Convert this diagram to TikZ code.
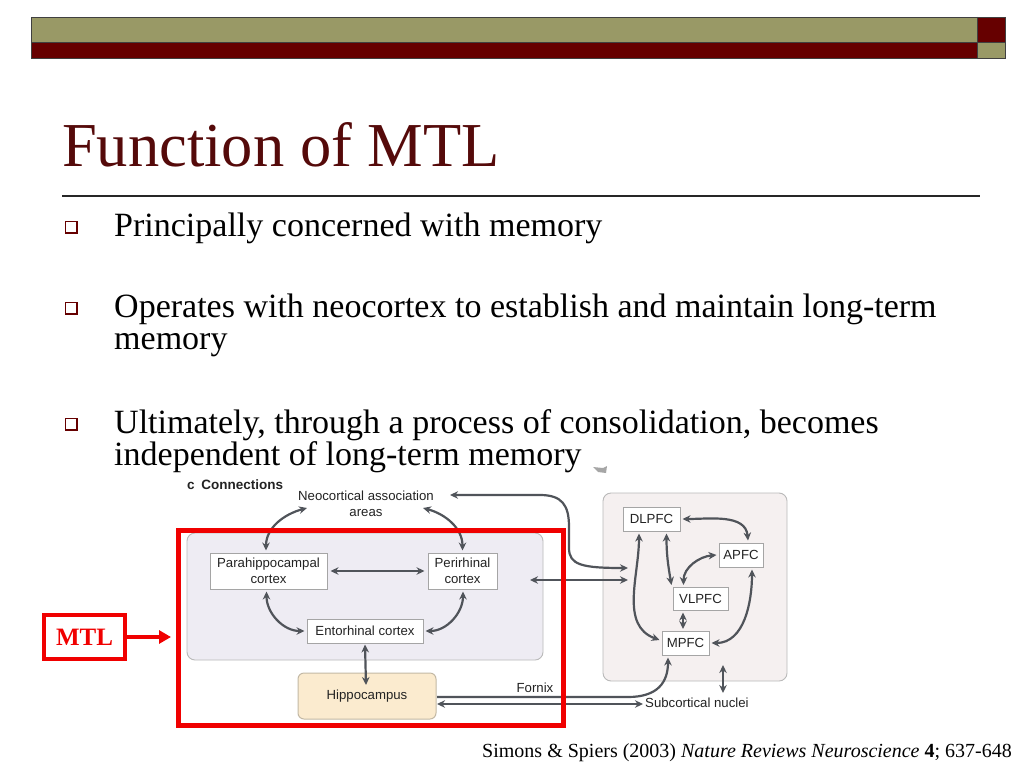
\documentclass[tikz,border=0pt]{standalone}
\usepackage{fontspec}
\setmainfont{Liberation Serif}
\setsansfont{Liberation Sans}
\usetikzlibrary{arrows.meta}
\definecolor{hdrolive}{RGB}{153,153,102}
\definecolor{hdrred}{RGB}{102,0,0}
\definecolor{titlered}{RGB}{85,10,10}
\definecolor{mtlred}{RGB}{240,0,0}
\definecolor{arrgray}{RGB}{80,84,90}
\definecolor{txtgray}{RGB}{35,35,35}
\definecolor{boxline}{RGB}{165,165,165}
\definecolor{mtlpanel}{RGB}{238,236,243}
\definecolor{pfcpanel}{RGB}{245,240,240}
\definecolor{panelline}{RGB}{185,185,185}
\definecolor{hippofill}{RGB}{251,235,207}
\definecolor{hippoline}{RGB}{195,185,165}
\tikzset{
  bodytext/.style={anchor=base west,inner sep=0,font=\fontsize{34}{34}\selectfont},
  bulletbox/.style={draw=hdrred,line width=1.5pt,fill=white,minimum width=11.5pt,minimum height=11.5pt,inner sep=0},
  regionbox/.style={draw=boxline,line width=1pt,fill=white,inner sep=0,text=txtgray,align=center,font=\sffamily\fontsize{13.2}{15.5}\selectfont},
  difftext/.style={inner sep=0,text=txtgray,align=center,font=\sffamily\fontsize{13.2}{15.5}\selectfont},
  arr/.style={draw=arrgray,line width=2.2pt,{Stealth[length=8pt,width=7.5pt]}-{Stealth[length=8pt,width=7.5pt]}},
  arrone/.style={draw=arrgray,line width=2.2pt,-{Stealth[length=8pt,width=7.5pt]}},
}
\begin{document}
\begin{tikzpicture}[x=1pt,y=-1pt]
\useasboundingbox (0,0) rectangle (1024,768);
\fill[white] (0,0) rectangle (1024,768);
% header bands
\fill[hdrolive] (31,17) rectangle (977,42);
\fill[hdrred] (31,42) rectangle (977,58);
\fill[hdrred] (977,17) rectangle (1005,42);
\fill[hdrolive] (977,42) rectangle (1005,58);
\draw[black!75,line width=0.8pt] (31,17) rectangle (1005,58);
\draw[black!75,line width=0.8pt] (31,42) -- (1005,42) (977,17) -- (977,58);
% title
\node[anchor=base west,inner sep=0,text=titlered,font=\fontsize{62.5}{62.5}\selectfont] (title) at (62,166) {Function of MTL};
\draw[black!85,line width=1.3pt] (62,196) -- (980,196);
% bullets
\node[bulletbox] (b1) at (71,227) {};
\node[bulletbox] (b2) at (71,308) {};
\node[bulletbox] (b3) at (71,424) {};
\node[bodytext] (t1) at (114,236) {Principally concerned with memory};
\node[bodytext] (t2a) at (114,317) {Operates with neocortex to establish and maintain long-term};
\node[bodytext] (t2b) at (114,349) {memory};
\node[bodytext] (t3a) at (114,433) {Ultimately, through a process of consolidation, becomes};
\node[bodytext] (t3b) at (114,465) {independent of long-term memory};
% small artifact
\fill[gray!70] (593,467) -- (603,468) -- (607,466) -- (606,473) -- (598,472) -- cycle;
% panels
\draw[panelline,fill=mtlpanel,line width=0.9pt,rounded corners=8pt] (187,533) rectangle (543,660);
\draw[panelline,fill=pfcpanel,line width=0.9pt,rounded corners=8pt] (603,493) rectangle (787,681);
% labels
\node[anchor=west,inner sep=0,text=txtgray,font=\sffamily\bfseries\fontsize{13.5}{15}\selectfont] (conn) at (187,485) {c\hspace{3pt} Connections};
\node[difftext] (neo) at (366,504) {Neocortical association\\areas};
% MTL nodes
\node[regionbox,minimum width=117pt,minimum height=36pt] (para) at (268.5,571) {Parahippocampal\\cortex};
\node[regionbox,minimum width=69pt,minimum height=36pt] (peri) at (462.5,571) {Perirhinal\\cortex};
\node[regionbox,minimum width=116pt,minimum height=24pt] (ento) at (365,631) {Entorhinal cortex};
\node[regionbox,draw=hippoline,fill=hippofill,rounded corners=6pt,minimum width=138pt,minimum height=46pt] (hippo) at (367,696) {Hippocampus};
% PFC nodes
\node[regionbox,minimum width=57pt,minimum height=24pt] (dl) at (651.5,519) {DLPFC};
\node[regionbox,minimum width=44pt,minimum height=24pt] (ap) at (741,555) {APFC};
\node[regionbox,minimum width=55pt,minimum height=23pt] (vl) at (700.5,599) {VLPFC};
\node[regionbox,minimum width=47pt,minimum height=24pt] (mp) at (685.5,643) {MPFC};
\node[difftext] (fornix) at (535,688) {Fornix};
\node[difftext,anchor=west] (subc) at (645,703) {Subcortical nuclei};
% coordinates for free ends
\coordinate (neoL) at (307,508);
\coordinate (neoR) at (423,508);
\coordinate (neoT) at (450,495);
\coordinate (pfcA) at (628,568);
\coordinate (pfcB) at (628,580);
\coordinate (mtlB) at (530,580);
\coordinate (hipIn) at (366,685);
\coordinate (hipR1) at (437,697);
\coordinate (hipR2) at (437,704);
\coordinate (subL) at (643,704);
\coordinate (pfcBot) at (723,665);
\coordinate (subTop) at (723,693);
% MTL arrows
\draw[arr] (neoL) to[out=195,in=90] ([xshift=-2.5pt,yshift=2pt]para.north);
\draw[arr] (neoR) to[out=-15,in=90] ([yshift=2pt]peri.north);
\draw[arr] ([xshift=3pt]para.east) -- ([xshift=-3pt]peri.west);
\draw[arr] ([xshift=-2pt,yshift=-2pt]para.south) to[out=-90,in=180] ([xshift=-2pt]ento.west);
\draw[arr] ([xshift=0.5pt,yshift=-2pt]peri.south) to[out=-90,in=0] ([xshift=2pt]ento.east);
\draw[arr] ([yshift=-1pt]ento.south) -- (hipIn);
% long connections
\draw[arr] (neoT) -- (540,495) .. controls (562,495) and (569,505) .. (569,527) -- (569,548) .. controls (569,565) and (582,568) .. (pfcA);
\draw[arr] (mtlB) -- (pfcB);
\draw[arrone] (hipR1) -- (628,697) .. controls (658,697) and (668,682) .. ([xshift=-17.5pt,yshift=-2pt]mp.south);
\draw[arr] (hipR2) -- (subL);
% PFC arrows
\draw[arr] ([xshift=2pt]dl.east) to[out=0,in=95] ([xshift=7pt,yshift=2pt]ap.north);
\draw[arr] ([xshift=-2pt]ap.west) to[out=185,in=90] ([xshift=-17pt,yshift=2pt]vl.north);
\draw[arr] ([xshift=15pt,yshift=-2pt]dl.south) to[out=-90,in=100] ([xshift=-29pt,yshift=2pt]vl.north);
\draw[arr] ([xshift=-12.5pt,yshift=-2pt]dl.south) to[out=-90,in=160] ([xshift=-2pt,yshift=3pt]mp.west);
\draw[arr] ([xshift=-17.5pt,yshift=-1.5pt]vl.south) -- ([xshift=-2.5pt,yshift=1.5pt]mp.north);
\draw[arr] ([xshift=11pt,yshift=-2pt]ap.south) to[out=-90,in=0] ([xshift=2pt]mp.east);
\draw[arr] (pfcBot) -- (subTop);
% red MTL frame
\draw[mtlred,line width=5pt] (178,530) rectangle (563,725);
\node[draw=mtlred,line width=4pt,minimum width=81pt,minimum height=44pt,inner sep=0,text=mtlred,font=\bfseries\fontsize{25}{25}\selectfont] (mtl) at (84.5,637) {MTL};
\draw[mtlred,line width=3.5pt,-{Triangle[length=12pt,width=13pt]}] (mtl.east) -- (171,637);
% citation
\node[anchor=base east,inner sep=0,font=\fontsize{20}{20}\selectfont] (cite) at (1012,757) {Simons \& Spiers (2003) \textit{Nature Reviews Neuroscience} \textbf{4}; 637-648};
\end{tikzpicture}
\end{document}
